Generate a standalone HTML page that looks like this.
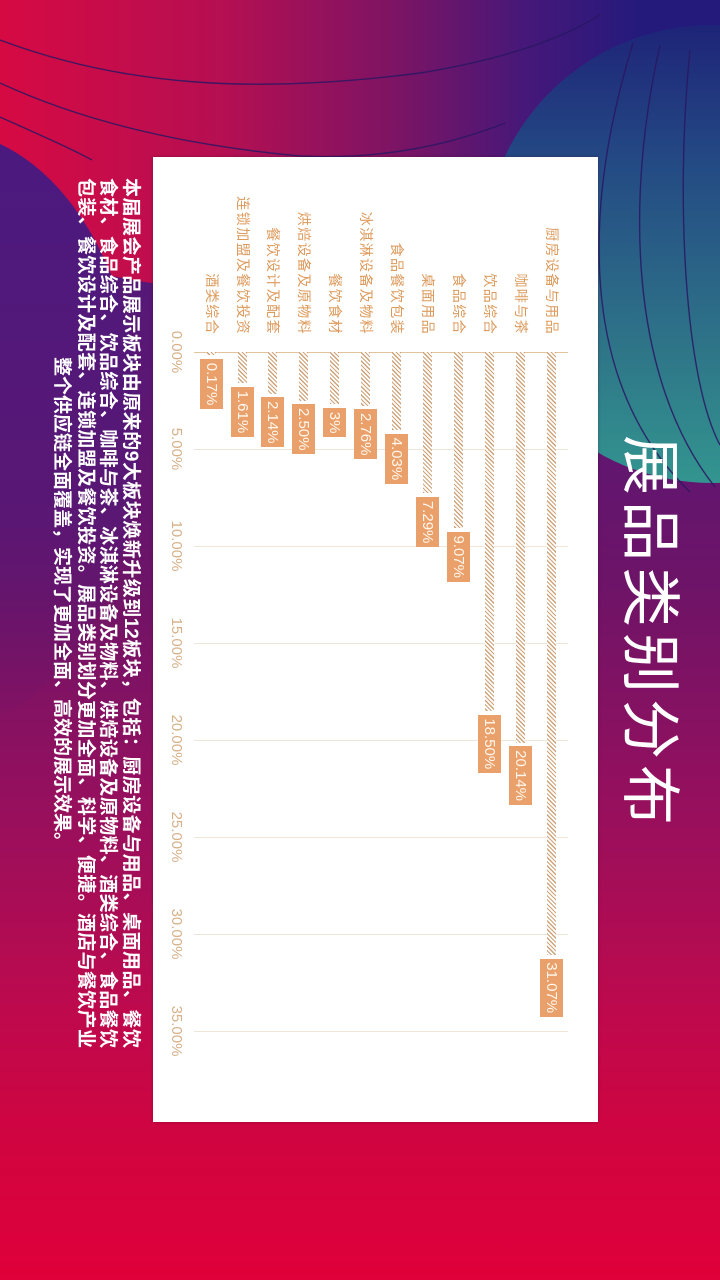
<!DOCTYPE html>
<html><head><meta charset="utf-8"><style>
html,body{margin:0;padding:0;}
body{width:720px;height:1280px;overflow:hidden;position:relative;background:#8a1262;}
#bg{position:absolute;left:0;top:0;}
#land{position:absolute;left:0;top:0;width:1280px;height:720px;transform-origin:0 0;transform:translate(720px,0) rotate(90deg);font-family:"Liberation Sans","Noto Sans CJK SC",sans-serif;}
.abs{position:absolute;}
#panel{left:157px;top:122px;width:965px;height:445px;background:#fff;box-shadow:0 0 3px rgba(60,0,30,.35);}
#title{left:435px;top:36px;height:60px;line-height:60px;font-size:60px;letter-spacing:6px;color:#fff;font-weight:400;white-space:nowrap;font-family:"Noto Sans CJK SC",sans-serif;}
.pl{position:absolute;left:178px;width:870px;height:23px;line-height:23px;font-size:19px;font-weight:bold;color:#fff;white-space:nowrap;text-align:justify;text-align-last:justify;font-family:"Liberation Sans","Noto Sans CJK SC",sans-serif;}
.grid{position:absolute;top:152px;width:1px;height:374px;background:#efe5d8;}
.tick{position:absolute;width:80px;text-align:center;top:535px;line-height:18px;font-size:15px;color:#d6b088;}
.cat{position:absolute;right:945px;height:20px;line-height:20px;font-size:14px;letter-spacing:1.4px;color:#dd9a5c;white-space:nowrap;font-family:"Noto Sans CJK SC",sans-serif;}
.bar{position:absolute;left:352px;height:9px;background:repeating-linear-gradient(135deg,#cfa27a 0 1.2px,#ffffff 1.2px 3px);}
.box{position:absolute;height:23px;line-height:23px;padding:0 3.75px;font-size:15px;background:#eaa06b;color:#fff7ec;white-space:nowrap;}
</style></head><body>
<svg id="bg" width="720" height="1280" viewBox="0 0 720 1280">
<defs>
<linearGradient id="base" x1="0" y1="0" x2="0" y2="1">
<stop offset="0" stop-color="#4a1a7e"/>
<stop offset="0.3" stop-color="#5a1774"/>
<stop offset="0.45" stop-color="#6c1468"/>
<stop offset="0.62" stop-color="#94105e"/>
<stop offset="0.78" stop-color="#bc0a4e"/>
<stop offset="0.9" stop-color="#d2043f"/>
<stop offset="1" stop-color="#e0003a"/>
</linearGradient>
<linearGradient id="ball" gradientUnits="userSpaceOnUse" x1="0" y1="0" x2="640" y2="0">
<stop offset="0" stop-color="#d60a43"/>
<stop offset="0.35" stop-color="#b50f52"/>
<stop offset="0.62" stop-color="#7c1464"/>
<stop offset="0.82" stop-color="#461879"/>
<stop offset="1" stop-color="#241a7c"/>
</linearGradient>
<linearGradient id="teal" gradientUnits="userSpaceOnUse" x1="0" y1="25" x2="0" y2="483">
<stop offset="0" stop-color="#1e2478"/>
<stop offset="0.3" stop-color="#244a84"/>
<stop offset="0.7" stop-color="#2e7488"/>
<stop offset="1" stop-color="#33958f"/>
</linearGradient>
<linearGradient id="lp" x1="0" y1="0" x2="0" y2="1">
<stop offset="0" stop-color="#4a1a80"/>
<stop offset="0.65" stop-color="#5a1774"/>
<stop offset="1" stop-color="#6c1468" stop-opacity="0"/>
</linearGradient>
</defs>
<rect x="0" y="0" width="720" height="1280" fill="url(#base)"/>
<ellipse cx="250" cy="-40" rx="480" ry="330" fill="url(#ball)"/>
<ellipse cx="-60" cy="430" rx="200" ry="300" fill="url(#lp)"/>
<circle cx="712" cy="254" r="229" fill="url(#teal)"/>
<g fill="none" stroke="#2a1763" stroke-width="1.4" opacity="0.85">
<path d="M0,40 C120,85 250,95 420,73 C500,60 560,40 600,15"/>
<path d="M0,83 C80,120 180,145 300,156 C380,160 450,145 505,123"/>
<path d="M0,117 C40,135 70,148 92,160"/>
<path d="M633,43 C585,200 575,380 690,492"/>
<path d="M660,45 C625,200 630,380 715,487"/>
<path d="M690,50 C675,200 685,380 720,445"/>
</g>
</svg>
<div id="land">
<div id="panel" class="abs"></div>
<div id="title" class="abs">展品类别分布</div>

<div class="pl" style="top:578px;">本届展会产品展示板块由原来的9大板块焕新升级到12板块，包括：厨房设备与用品、桌面用品、餐饮</div>
<div class="pl" style="top:601px;">食材、食品综合、饮品综合、咖啡与茶、冰淇淋设备及物料、烘焙设备及原物料、酒类综合、食品餐饮</div>
<div class="pl" style="top:623px;">包装、餐饮设计及配套、连锁加盟及餐饮投资。展品类别划分更加全面、科学、便捷。酒店与餐饮产业</div>
<div class="pl" style="top:647px;left:357px;width:auto;text-align:left;text-align-last:auto;">整个供应链全面覆盖，实现了更加全面、高效的展示效果。</div>

<div class="grid" style="left:449px"></div>
<div class="grid" style="left:546px"></div>
<div class="grid" style="left:643px"></div>
<div class="grid" style="left:740px"></div>
<div class="grid" style="left:837px"></div>
<div class="grid" style="left:934px"></div>
<div class="grid" style="left:1031px"></div>
<div class="grid" style="left:352px;background:#e3c39b;"></div>

<div class="tick" style="left:312px">0.00%</div>
<div class="tick" style="left:409px">5.00%</div>
<div class="tick" style="left:506px">10.00%</div>
<div class="tick" style="left:603px">15.00%</div>
<div class="tick" style="left:700px">20.00%</div>
<div class="tick" style="left:797px">25.00%</div>
<div class="tick" style="left:894px">30.00%</div>
<div class="tick" style="left:991px">35.00%</div>

<div class="cat" style="top:158px">厨房设备与用品</div>
<div class="cat" style="top:189px">咖啡与茶</div>
<div class="cat" style="top:220px">饮品综合</div>
<div class="cat" style="top:251px">食品综合</div>
<div class="cat" style="top:282px">桌面用品</div>
<div class="cat" style="top:313px">食品餐饮包装</div>
<div class="cat" style="top:344px">冰淇淋设备及物料</div>
<div class="cat" style="top:375px">餐饮食材</div>
<div class="cat" style="top:406px">烘焙设备及原物料</div>
<div class="cat" style="top:437px">餐饮设计及配套</div>
<div class="cat" style="top:467px">连锁加盟及餐饮投资</div>
<div class="cat" style="top:498px">酒类综合</div>

<div class="bar" style="top:163.5px;width:602.8px"></div>
<div class="bar" style="top:194.5px;width:390.7px"></div>
<div class="bar" style="top:225.5px;width:358.9px"></div>
<div class="bar" style="top:256.5px;width:176px"></div>
<div class="bar" style="top:287.5px;width:141.4px"></div>
<div class="bar" style="top:318.5px;width:78.2px"></div>
<div class="bar" style="top:349.5px;width:53.5px"></div>
<div class="bar" style="top:380.5px;width:52px"></div>
<div class="bar" style="top:411.5px;width:48.5px"></div>
<div class="bar" style="top:442.5px;width:41.5px"></div>
<div class="bar" style="top:472.5px;width:31.2px"></div>
<div class="bar" style="top:503.5px;width:3.3px"></div>

<div class="box" style="top:156.5px;left:958.5px">31.07%</div>
<div class="box" style="top:187.5px;left:746.4px">20.14%</div>
<div class="box" style="top:218.5px;left:714.6px">18.50%</div>
<div class="box" style="top:249.5px;left:531.7px">9.07%</div>
<div class="box" style="top:280.5px;left:497.1px">7.29%</div>
<div class="box" style="top:311.5px;left:433.9px">4.03%</div>
<div class="box" style="top:342.5px;left:409.2px">2.76%</div>
<div class="box" style="top:373.5px;left:408px">3%</div>
<div class="box" style="top:404.5px;left:404.2px">2.50%</div>
<div class="box" style="top:435.5px;left:397.2px">2.14%</div>
<div class="box" style="top:465.5px;left:386.9px">1.61%</div>
<div class="box" style="top:496.5px;left:359px">0.17%</div>
</div>
</body></html>
